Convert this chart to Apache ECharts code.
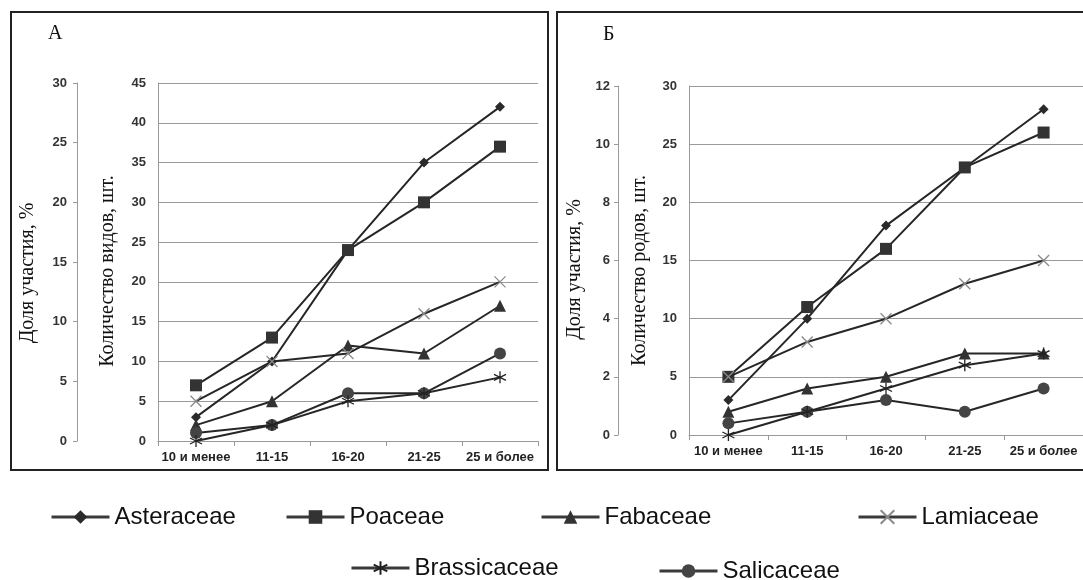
<!DOCTYPE html>
<html>
<head>
<meta charset="utf-8">
<script src="https://cdn.jsdelivr.net/npm/echarts@6/dist/echarts.min.js"></script>
<style>
html,body{margin:0;padding:0;background:#fff;}
#chart{width:1083px;height:580px;}
</style>
</head>
<body>
<div id="chart"></div>
<script>
// ---- data ----
const categories = ['10 и менее', '11-15', '16-20', '21-25', '25 и более'];
const families = ['Asteraceae', 'Poaceae', 'Fabaceae', 'Lamiaceae', 'Brassicaceae', 'Salicaceae'];

// Panel А: number of species
const speciesAsteraceae   = [3, 10, 24, 35, 42];
const speciesPoaceae      = [7, 13, 24, 30, 37];
const speciesFabaceae     = [2, 5, 12, 11, 17];
const speciesLamiaceae    = [5, 10, 11, 16, 20];
const speciesBrassicaceae = [0, 2, 5, 6, 8];
const speciesSalicaceae   = [1, 2, 6, 6, 11];

// Panel Б: number of genera
const generaAsteraceae   = [3, 10, 18, 23, 28];
const generaPoaceae      = [5, 11, 16, 23, 26];
const generaFabaceae     = [2, 4, 5, 7, 7];
const generaLamiaceae    = [5, 8, 10, 13, 15];
const generaBrassicaceae = [0, 2, 4, 6, 7];
const generaSalicaceae   = [1, 2, 3, 2, 4];

const speciesData = [speciesAsteraceae, speciesPoaceae, speciesFabaceae, speciesLamiaceae, speciesBrassicaceae, speciesSalicaceae];
const generaData  = [generaAsteraceae, generaPoaceae, generaFabaceae, generaLamiaceae, generaBrassicaceae, generaSalicaceae];

// ---- styles ----
const LINE = '#262626';
const markers = [
  {symbol: 'diamond', size: 10, color: '#2a2a2a', border: 0},
  {symbol: 'rect', size: 12, color: '#333333', border: 0},
  {symbol: 'triangle', size: 12, color: '#333333', border: 0},
  {symbol: 'path://M0,0L10,10M10,0L0,10', size: 11, color: '#8a8a8a', border: 1.3},
  {symbol: 'path://M5,0L5,10M0.7,2.5L9.3,7.5M0.7,7.5L9.3,2.5', size: 12, color: '#222222', border: 1.3},
  {symbol: 'circle', size: 12, color: '#444444', border: 0}
];

function makeSeries(dataArr, xIdx, yIdx) {
  return families.map((name, i) => {
    const m = markers[i];
    return {
      name: name,
      type: 'line',
      xAxisIndex: xIdx,
      yAxisIndex: yIdx,
      data: dataArr[i],
      symbol: m.symbol,
      symbolSize: m.size,
      showSymbol: true,
      z: 2 + (m.border ? 1 : 0),
      lineStyle: {color: LINE, width: 2},
      itemStyle: {color: m.color, borderColor: m.color, borderWidth: m.border},
      emphasis: {disabled: true},
      animation: false
    };
  });
}

const tickFont = {fontFamily: 'Liberation Sans', fontSize: 13, fontWeight: 'bold', color: '#333'};
const axisGray = '#9a9a9a';

function catAxis(gridIndex) {
  return {
    type: 'category', gridIndex: gridIndex, data: categories, boundaryGap: true,
    axisLine: {show: true, lineStyle: {color: axisGray, width: 1}},
    axisTick: {show: true, alignWithLabel: false, length: 5, lineStyle: {color: axisGray}},
    axisLabel: {fontFamily: 'Liberation Sans', fontSize: 13, fontWeight: 'bold', color: '#222', margin: 10, interval: 0}
  };
}
function valAxis(gridIndex, max, interval, name, offset, grid, gap, labelMargin, shift) {
  return {
    type: 'value', gridIndex: gridIndex, min: 0, max: max, interval: interval,
    position: 'left', offset: offset,
    name: name, nameLocation: 'middle', nameGap: gap,
    nameTextStyle: {fontFamily: 'Liberation Serif', fontSize: 20, color: '#111', padding: [0, shift, 0, 0]},
    axisLine: {show: true, lineStyle: {color: axisGray, width: 1}},
    axisTick: {show: !grid, length: 4, lineStyle: {color: axisGray}},
    axisLabel: Object.assign({margin: labelMargin}, tickFont),
    splitLine: {show: grid, lineStyle: {color: axisGray, width: 1}}
  };
}

const legendPos = [
  {left: 50, top: 505}, {left: 285, top: 505}, {left: 540, top: 505}, {left: 857, top: 505},
  {left: 350, top: 556}, {left: 658, top: 559}
];
const legends = families.map((name, i) => ({
  data: [name], left: legendPos[i].left, top: legendPos[i].top, padding: 0,
  itemWidth: 58, itemHeight: 17, itemGap: 5, selectedMode: false,
  lineStyle: {width: 3, color: '#3a3a3a'},
  textStyle: {fontFamily: 'Liberation Sans', fontSize: 24, color: '#111'}
}));

const chart = echarts.init(document.getElementById('chart'), null, {renderer: 'canvas'});
chart.setOption({
  backgroundColor: '#fff',
  animation: false,
  legend: legends,
  grid: [
    {left: 158, top: 83, width: 380, height: 358, containLabel: false},
    {left: 689, top: 86, width: 395, height: 349, containLabel: false}
  ],
  xAxis: [catAxis(0), catAxis(1)],
  yAxis: [
    valAxis(0, 45, 5, 'Количество видов, шт.', 0, true, 40, 12, 18),
    valAxis(0, 30, 5, 'Доля участия, %', 81, false, 39, 10, 22),
    valAxis(1, 30, 5, 'Количество родов, шт.', 0, true, 39, 12, 20),
    valAxis(1, 12, 2, 'Доля участия, %', 71, false, 33, 8, 18)
  ],
  series: makeSeries(speciesData, 0, 0).concat(makeSeries(generaData, 1, 2)),
  graphic: [
    {type: 'rect', shape: {x: 11, y: 12, width: 537, height: 458}, style: {fill: 'none', stroke: '#222', lineWidth: 2}, silent: true},
    {type: 'rect', shape: {x: 557, y: 12, width: 540, height: 458}, style: {fill: 'none', stroke: '#222', lineWidth: 2}, silent: true},
    {type: 'text', left: 48, top: 24, style: {text: 'А', font: '20px "Liberation Serif"', fill: '#111'}, silent: true},
    {type: 'text', left: 603, top: 25, style: {text: 'Б', font: '20px "Liberation Serif"', fill: '#111'}, silent: true}
  ]
});
</script>
</body>
</html>
